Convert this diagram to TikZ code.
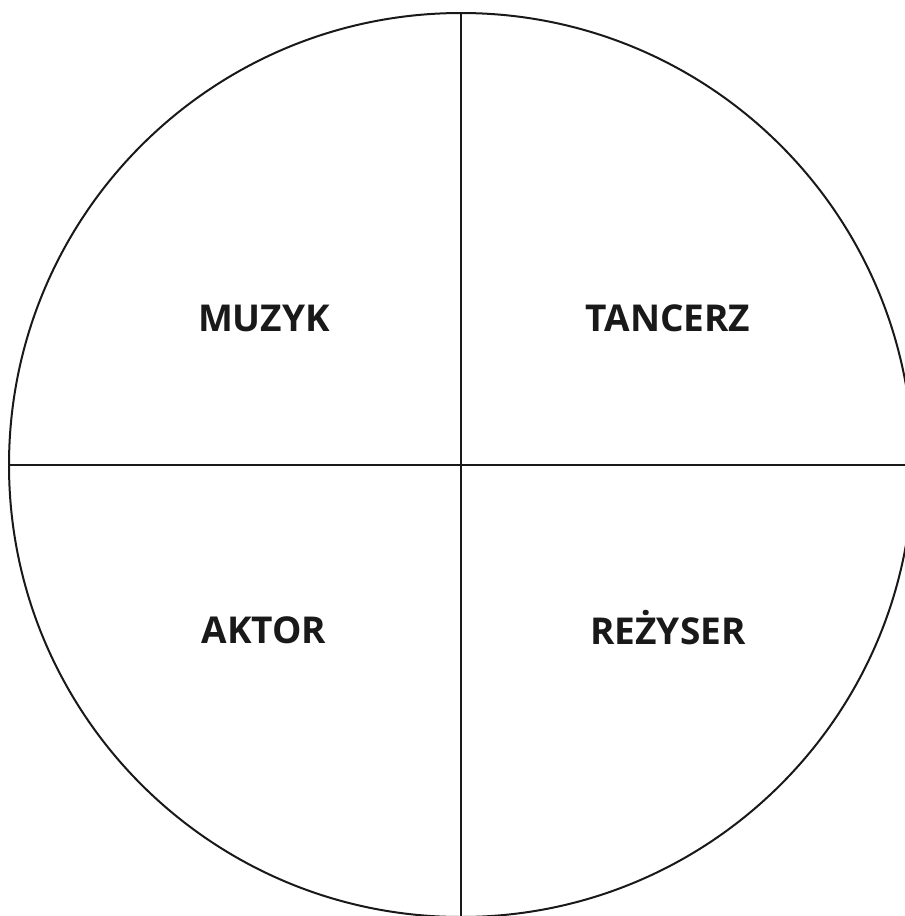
\documentclass[tikz,border=0pt]{standalone}
\usepackage{fontspec}
\setmainfont{Open Sans}
\usepackage{tikz}
\usetikzlibrary{positioning}

\begin{document}
\begin{tikzpicture}[x=1pt, y=-1pt,
  ring/.style={draw=black!90, circle, line width=2pt, inner sep=0pt, minimum size=904pt},
  divider/.style={draw=black!90, line width=2pt},
  role/.style={font=\fontsize{37}{40}\selectfont\bfseries, text=black!90, inner sep=0pt}]
  \useasboundingbox (0,0) rectangle (905,916);
  % circle split into four quarters
  \node[ring] (ring) at (461,465) {};
  \draw[divider] (ring.north) -- (ring.south);
  \draw[divider] (ring.west) -- (ring.east);
  % labels, one per quarter
  \node[role] (muzyk)   at (264,318) {MUZYK};
  \node[role] (tancerz) at (668,318) {TANCERZ};
  \node[role] (aktor)   at (264,630) {AKTOR};
  \node[role] (rezyser) at (668,628) {REŻYSER};
\end{tikzpicture}
\end{document}
